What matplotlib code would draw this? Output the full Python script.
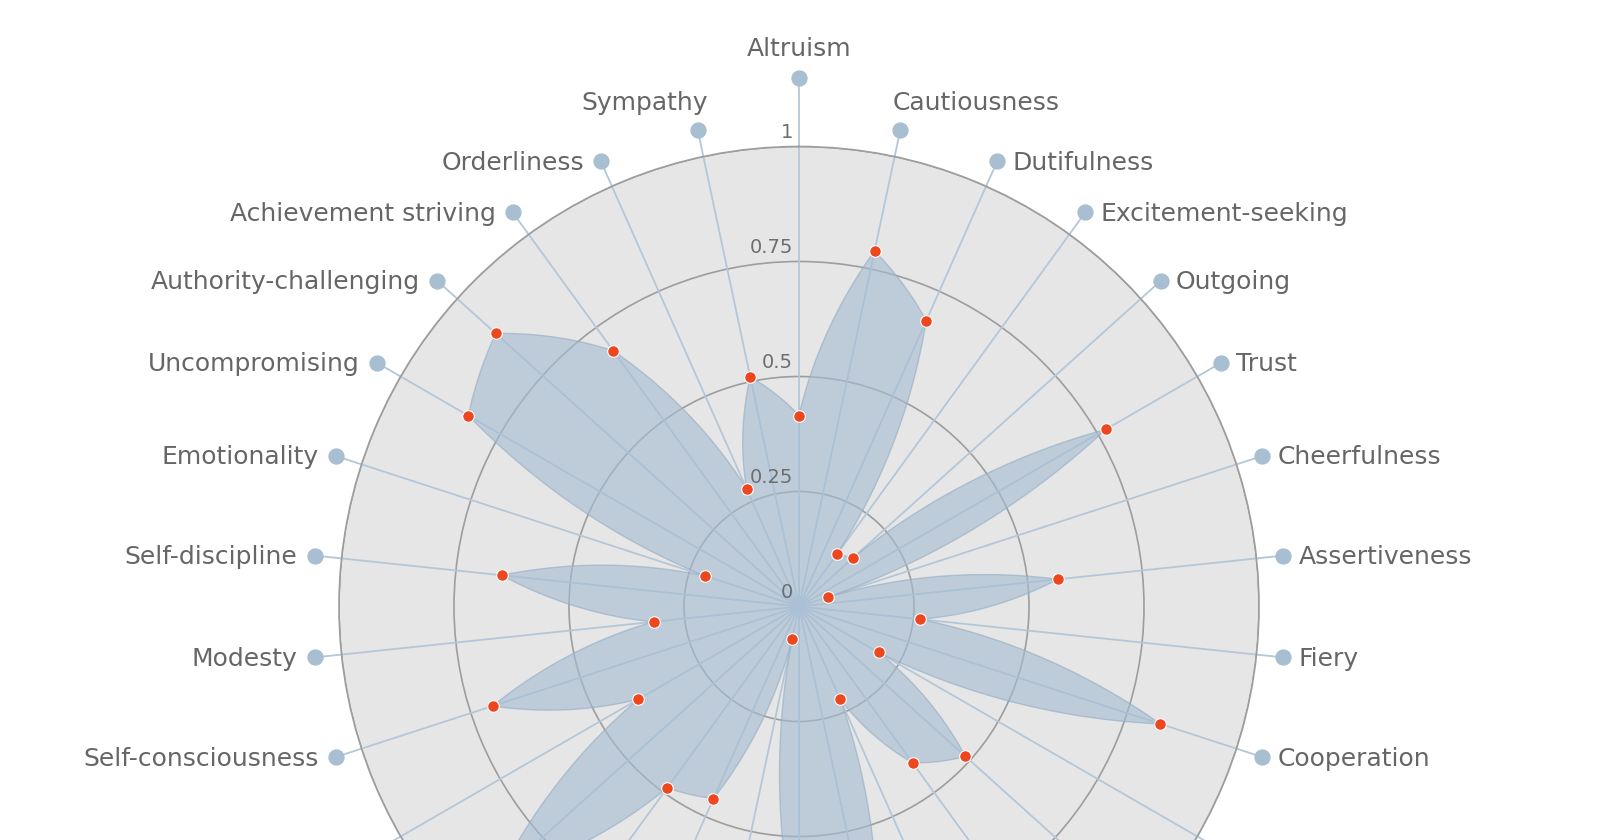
import numpy as np
import matplotlib.pyplot as plt

# personality facets, clockwise from the top
categories = ['Altruism', 'Cautiousness', 'Dutifulness', 'Excitement-seeking', 'Outgoing',
              'Trust', 'Cheerfulness', 'Assertiveness', 'Fiery', 'Cooperation',
              'Activity level', 'Adventurousness', 'Artistic interests', 'Gregariousness',
              'Imagination', 'Intellect', 'Immoderation', 'Melancholy', 'Prone to worry',
              'Susceptible to stress', 'Self-efficacy', 'Self-consciousness', 'Modesty',
              'Self-discipline', 'Emotionality', 'Uncompromising', 'Authority-challenging',
              'Achievement striving', 'Orderliness', 'Sympathy']
values = [0.415, 0.79, 0.68, 0.14, 0.157,
          0.77, 0.066, 0.566, 0.264, 0.826,
          0.20, 0.487, 0.42, 0.22,
          0.80, 0.73, 0.072, 0.457, 0.487,
          0.88, 0.403, 0.70, 0.318,
          0.65, 0.214, 0.83, 0.887,
          0.687, 0.28, 0.51]
r_ticks = [0, 0.25, 0.5, 0.75, 1]
r_tick_labels = ['0', '0.25', '0.5', '0.75', '1']

plt.rcParams['font.family'] = ['DejaVu Sans']

n = len(categories)
theta = np.deg2rad(np.arange(n) * 360 / n)

fig = plt.figure(figsize=(16, 8.4), dpi=100)
ax = fig.add_axes([0.211875, -0.26964, 0.575, 1.09524], projection='polar')
ax.set_theta_zero_location('N')
ax.set_theta_direction(-1)
ax.set_ylim(0, 1)
ax.set_facecolor('#e6e6e6')
ax.set_xticks([])
ax.set_yticks(r_ticks[1:])
ax.set_yticklabels([])
ax.yaxis.grid(True, color='#9d9d9d', lw=1.2)
ax.xaxis.grid(False)
ax.spines['polar'].set_color('#9d9d9d')
ax.spines['polar'].set_linewidth(1.2)
ax.set_axisbelow(True)

# spokes out to the label dots
dot_r = np.full(n, 1.059)
dot_r[0] = 1.149
for t, rr in zip(theta, dot_r):
    ax.plot([t, t], [0, rr], color='#b4c7d8', lw=1.3, clip_on=False, zorder=1)
ax.scatter(theta, dot_r, s=115, color='#a8bed1', clip_on=False, zorder=3)

# filled shape, drawn linear in angle/radius like the original
th_c = np.append(theta, 2 * np.pi)
v_c = np.append(values, values[0])
poly = ax.fill(th_c, v_c, facecolor='#a6bdd2', alpha=0.62,
               edgecolor='#94adc4', lw=1.0, zorder=2)[0]
poly.get_path()._interpolation_steps = 40

ax.scatter(theta, values, s=70, color='#ee4720', edgecolors='white',
           linewidths=0.8, zorder=4)

# radial tick labels
for v, lab in zip(r_ticks, r_tick_labels):
    ax.annotate(lab, xy=(0, v), xytext=(-6, 4), textcoords='offset pixels',
                ha='right', va='bottom', fontsize=14, color='#6e6e6e',
                annotation_clip=False, zorder=5)

# category labels
for i, (lab, t, rr) in enumerate(zip(categories, theta, dot_r)):
    deg = i * 360 / n
    if deg == 0:
        ha, dx, dy = 'center', 0, 22
    elif deg < 15:
        ha, dx, dy = 'left', -8, 20
    elif deg > 345:
        ha, dx, dy = 'right', 10, 20
    elif deg == 180:
        ha, dx, dy = 'center', 0, -32
    elif deg < 180:
        ha, dx, dy = 'left', 15, -8.5
    else:
        ha, dx, dy = 'right', -17, -8.5
    ax.annotate(lab, xy=(t, rr), xytext=(dx, dy), textcoords='offset pixels',
                ha=ha, va='baseline', fontsize=18, color='#666666',
                annotation_clip=False)

fig.savefig('out.png', dpi=100, facecolor='white')
